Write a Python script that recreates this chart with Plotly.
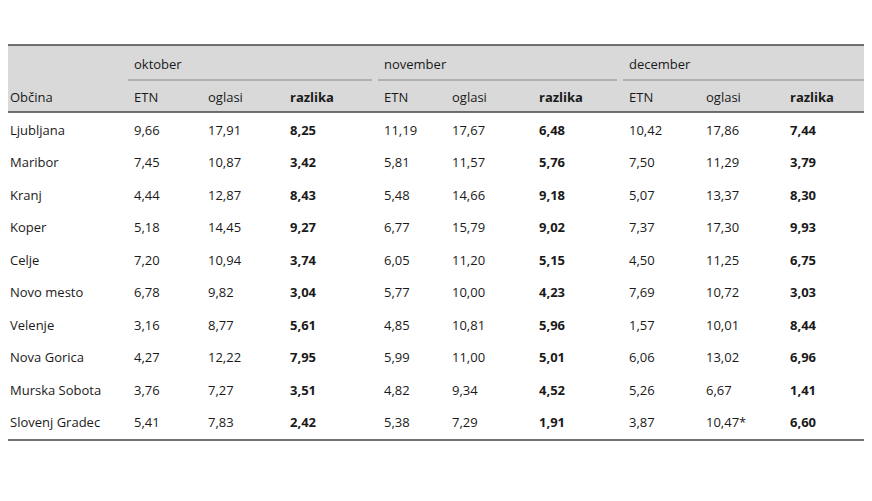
import plotly.graph_objects as go

obcine = ["Ljubljana","Maribor","Kranj","Koper","Celje","Novo mesto","Velenje","Nova Gorica","Murska Sobota","Slovenj Gradec"]
okt_etn = ["9,66","7,45","4,44","5,18","7,20","6,78","3,16","4,27","3,76","5,41"]
okt_ogl = ["17,91","10,87","12,87","14,45","10,94","9,82","8,77","12,22","7,27","7,83"]
okt_raz = ["8,25","3,42","8,43","9,27","3,74","3,04","5,61","7,95","3,51","2,42"]
nov_etn = ["11,19","5,81","5,48","6,77","6,05","5,77","4,85","5,99","4,82","5,38"]
nov_ogl = ["17,67","11,57","14,66","15,79","11,20","10,00","10,81","11,00","9,34","7,29"]
nov_raz = ["6,48","5,76","9,18","9,02","5,15","4,23","5,96","5,01","4,52","1,91"]
dec_etn = ["10,42","7,50","5,07","7,37","4,50","7,69","1,57","6,06","5,26","3,87"]
dec_ogl = ["17,86","11,29","13,37","17,30","11,25","10,72","10,01","13,02","6,67","10,47*"]
dec_raz = ["7,44","3,79","8,30","9,93","6,75","3,03","8,44","6,96","1,41","6,60"]
months = ["oktober","november","december"]
subhead = ["ETN","oglasi","razlika"]

FONT = "Open Sans"
FS = 13
colx = [8, 132, 206, 288, 382, 450, 537, 627, 704, 788]
fig = go.Figure()
ann = []
shapes = []
def txt(x, y, s, bold=False, size=FS):
    ann.append(dict(x=x, y=y, xref="x", yref="y", text=("<b>%s</b>" % s) if bold else s,
                    showarrow=False, xanchor="left", yanchor="middle",
                    font=dict(family=FONT, size=size, color="#1a1a1a")))

# title
txt(5, 12, "<b>Preglednica 2:</b> Srednje vrednosti najemnin stanovanj pri ustreznih najemnih poslih v ETN in ustreznih oglasih v evrih na kvadratni meter v", size=13.1)
txt(5, 31, "izbranih občinah med oktobrom 2024 in decembrom 2024", size=13.1)

shapes.append(dict(type="rect", x0=0, x1=872, y0=45, y1=112, xref="x", yref="y", fillcolor="#d9d9d9", line_width=0, layer="below"))
for yy in (45, 112, 440):
    shapes.append(dict(type="line", x0=0, x1=872, y0=yy, y1=yy, xref="x", yref="y", line=dict(color="#444", width=1.5)))
for i, m in enumerate(months):
    x0 = colx[1 + 3*i] - 4
    x1 = (colx[4 + 3*i] - 10) if i < 2 else 872
    shapes.append(dict(type="line", x0=x0, x1=x1, y0=80, y1=80, xref="x", yref="y", line=dict(color="#888", width=1)))
    txt(colx[1 + 3*i], 64, m)
    for j, s in enumerate(subhead):
        txt(colx[1 + 3*i + j], 97, s, bold=(j == 2))
txt(colx[0], 97, "Občina")

cols = [okt_etn, okt_ogl, okt_raz, nov_etn, nov_ogl, nov_raz, dec_etn, dec_ogl, dec_raz]
for r, name in enumerate(obcine):
    y = 130 + r * 32.45
    txt(colx[0], y, name)
    for c, col in enumerate(cols):
        txt(colx[c + 1], y, col[r], bold=(c % 3 == 2))

txt(5, 454, "Opomba:")
txt(5, 472, "* V proučevanem obdobju so bili ustrezni trije oglasi ali manj.")
txt(5, 490, "Vir: ETN (2025); nepremicnine.net (2024)")

# browser body has an 8px margin: shrink figure and offset ranges so pixels line up
fig.update_layout(width=860, height=493, margin=dict(l=0, r=0, t=0, b=0),
                  paper_bgcolor="white", plot_bgcolor="white",
                  xaxis=dict(range=[8, 868], visible=False, fixedrange=True),
                  yaxis=dict(range=[501, 8], visible=False, fixedrange=True),
                  annotations=ann, shapes=shapes, showlegend=False)
fig.write_html("out.html")
